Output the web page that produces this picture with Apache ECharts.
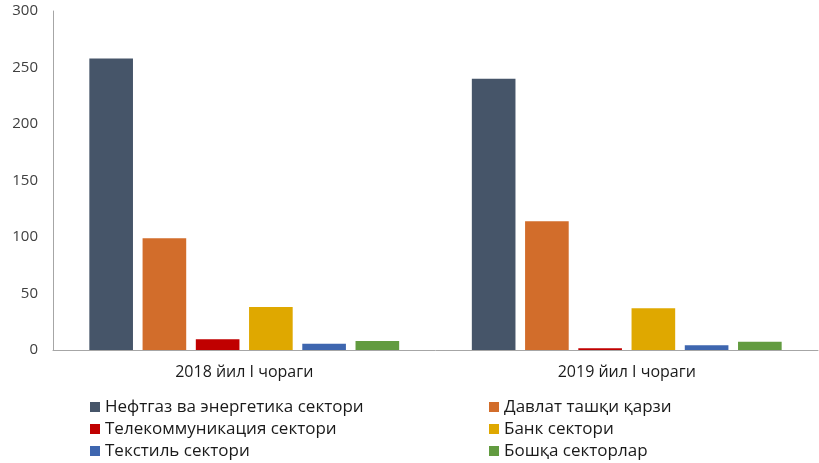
<!DOCTYPE html>
<html>
<head>
<meta charset="utf-8">
<script src="https://cdn.jsdelivr.net/npm/echarts@6/dist/echarts.min.js"></script>
<style>html,body{margin:0;padding:0;background:#fff;}#c{width:819px;height:463px;}</style>
</head>
<body>
<div id="c"></div>
<script>
var categories = ['2018 йил I чораги', '2019 йил I чораги'];
var seriesNames = ['Нефтгаз ва энергетика сектори', 'Давлат ташқи қарзи', 'Телекоммуникация сектори', 'Банк сектори', 'Текстиль сектори', 'Бошқа секторлар'];
var oilGas = [258, 240];
var stateDebt = [99, 114];
var telecom = [9.5, 1.5];
var bank = [38, 37];
var textile = [5.5, 4.2];
var other = [8, 7.4];
var yTicks = [0, 50, 100, 150, 200, 250, 300];

var values = [oilGas, stateDebt, telecom, bank, textile, other];
var colors = ['#465569', '#D26D2B', '#C00000', '#DFA800', '#3E66AF', '#629B40'];
var font = '"Open Sans", Lato, sans-serif';

// legend layout: column x, row center y
var legendPos = [[90, 407], [489, 407], [90, 429], [489, 429], [90, 451], [489, 451]];

var legends = seriesNames.map(function (n, i) {
  return {
    left: legendPos[i][0], top: legendPos[i][1] - 10, padding: 0, itemWidth: 10, itemHeight: 10, icon: 'rect',
    itemGap: 0,
    textStyle: { fontFamily: font, fontSize: 17, lineHeight: 20, color: '#1a1a1a' },
    data: [n]
  };
});

var chart = echarts.init(document.getElementById('c'));
chart.setOption({
  animation: false,
  grid: { left: 53, right: 1, top: 11, bottom: 113, containLabel: false },
  legend: legends,
  xAxis: {
    type: 'category', data: categories,
    axisLine: { lineStyle: { color: '#A6A6A6', width: 1 } },
    axisTick: { show: false },
    axisLabel: { fontFamily: font, fontSize: 16, color: '#1a1a1a', margin: 14 }
  },
  yAxis: {
    type: 'value', min: yTicks[0], max: yTicks[yTicks.length - 1], interval: 50,
    axisLine: { show: true, lineStyle: { color: '#A6A6A6', width: 1 } },
    axisTick: { show: false },
    splitLine: { show: false },
    axisLabel: { fontFamily: font, fontSize: 15, color: '#404040', margin: 15 }
  },
  series: seriesNames.map(function (n, i) {
    return {
      name: n, type: 'bar', data: values[i],
      barGap: '22%', barCategoryGap: '19%',
      itemStyle: { color: colors[i] }
    };
  })
});
</script>
</body>
</html>
